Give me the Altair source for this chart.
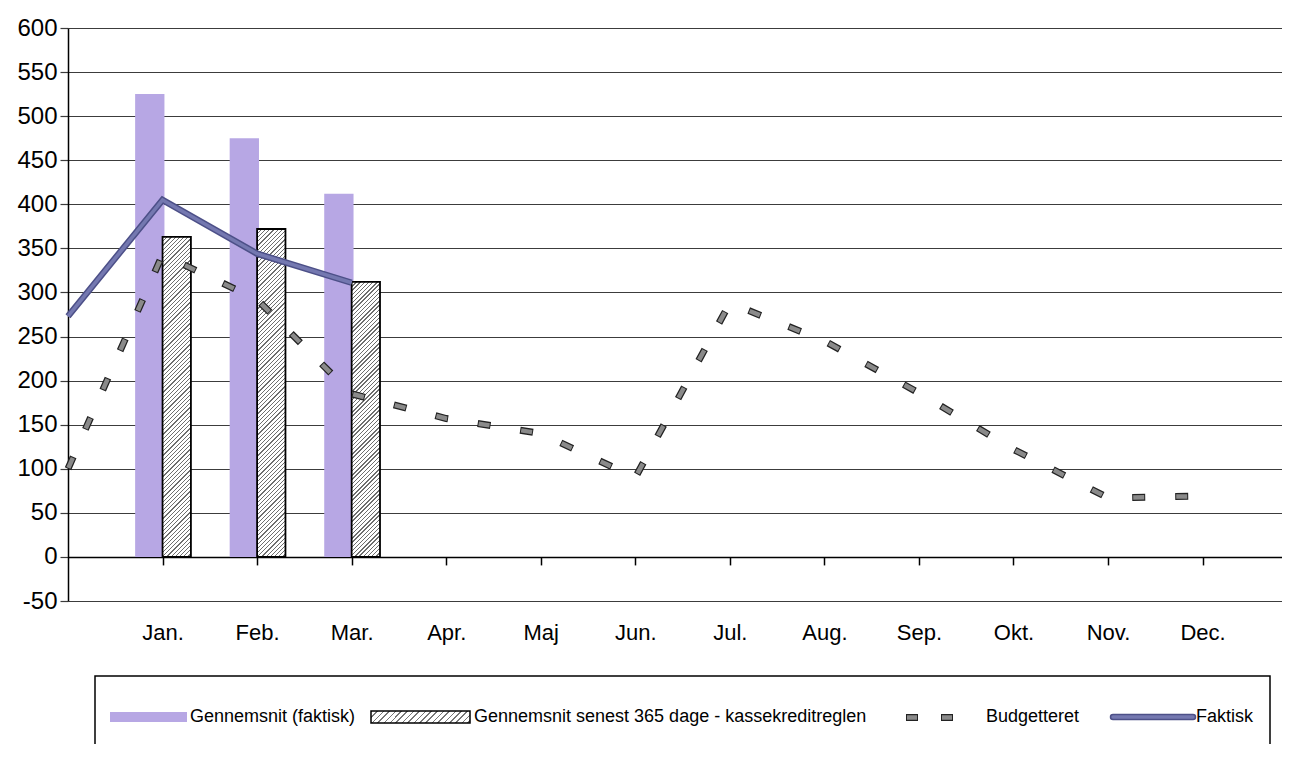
import json
import altair as alt
import pandas as pd

# ---------------- data ----------------
months = ["Jan.", "Feb.", "Mar.", "Apr.", "Maj", "Jun.", "Jul.", "Aug.", "Sep.", "Okt.", "Nov.", "Dec."]
bar_months = [1, 2, 3]
gennemsnit_faktisk = [525, 475, 412]
gennemsnit_365 = [363, 372, 312]
budget_pos = list(range(13))
budgetteret = [100, 343, 292, 185, 157, 140, 90, 288, 245, 186, 122, 67, 69]
faktisk_pos = [0, 1, 2, 3]
faktisk = [273, 405, 344, 311]
series_names = [
    "Gennemsnit (faktisk)",
    "Gennemsnit senest 365 dage - kassekreditreglen",
    "Budgetteret",
    "Faktisk",
]

# ---------------- layout / style ----------------
W, H = 1214, 573
XMAX = 12.84
YMIN, YMAX = -50, 600
PX_X = W / XMAX
PX_Y = H / (YMAX - YMIN)

FONT = "Liberation Sans"
PURPLE = "#b7a7e4"
SLATE_DARK = "#4d5088"
SLATE = "#7478b0"
GRID = "#3c3c3c"
DASH_GRAY = "#8a8a8a"


def hatch(w, h, period=4.2, dark=1.3, c_dark="#6e6e6e", c_light="#ffffff"):
    """Diagonal '/' hatch as a hard-stop linear gradient in bounding-box units."""
    S = w + h
    k = S / (w * w + h * h)
    stops = []
    s = 0.0
    while s < S:
        a = round(s / S, 5)
        b = round(min((s + dark) / S, 1.0), 5)
        c = round(min((s + period) / S, 1.0), 5)
        stops += [
            {"offset": a, "color": c_dark},
            {"offset": b, "color": c_dark},
            {"offset": b, "color": c_light},
            {"offset": c, "color": c_light},
        ]
        s += period
    return {"gradient": "linear", "x1": 0, "y1": 0, "x2": w * k, "y2": h * k, "stops": stops}


xs = alt.Scale(domain=[0, XMAX], nice=False, zero=False)
ys = alt.Scale(domain=[YMIN, YMAX], nice=False, zero=False)

xaxis = alt.Axis(
    values=list(range(1, 13)),
    labelExpr="%s[datum.value - 1]" % json.dumps(months),
    offset=-(0 - YMIN) * PX_Y,
    tickSize=8, tickWidth=1.5, tickColor="black",
    domainColor="black", domainWidth=1.5,
    labelFont=FONT, labelFontSize=22, labelColor="black",
    labelPadding=58, labelFlush=False, labelOverlap=False,
    grid=False, title=None,
)
yaxis = alt.Axis(
    values=list(range(YMIN, YMAX + 1, 50)),
    labelExpr="datum.value < 0 ? '-' + abs(datum.value) : '' + datum.value",
    grid=True, gridColor=GRID, gridWidth=1.2,
    tickSize=8, tickColor=GRID, tickWidth=1.2,
    domainColor="black", domainWidth=1.5,
    labelFont=FONT, labelFontSize=24, labelColor="black", labelPadding=3,
    title=None,
)


def X(field):
    return alt.X(field, type="quantitative", scale=xs, axis=xaxis)


def Y(field):
    return alt.Y(field, type="quantitative", scale=ys, axis=yaxis)


bars_df = pd.DataFrame({"m": bar_months, "faktisk": gennemsnit_faktisk, "senest": gennemsnit_365})
budget_df = pd.DataFrame({"pos": budget_pos, "v": budgetteret})
faktisk_df = pd.DataFrame({"pos": faktisk_pos, "v": faktisk})

BAR_W = 0.30

layers = []

# purple bars
layers.append(
    alt.Chart(bars_df)
    .transform_calculate(x0="datum.m - 0.29", x1="datum.m + 0.02")
    .mark_bar(fill=PURPLE)
    .encode(x=X("x0"), x2="x1:Q", y=Y("faktisk"), y2=alt.datum(0))
)

# hatched bars (one layer per bar so the hatch angle is right)
for m, v in zip(bar_months, gennemsnit_365):
    layers.append(
        alt.Chart(bars_df)
        .transform_filter(f"datum.m == {m}")
        .transform_calculate(x0="datum.m", x1=f"datum.m + {BAR_W}")
        .mark_bar(fill=hatch(BAR_W * PX_X, v * PX_Y), stroke="black", strokeWidth=1.8)
        .encode(x=X("x0"), x2="x1:Q", y=Y("senest"), y2=alt.datum(0))
    )

# budget dashed line (dark outline + gray core)
layers.append(
    alt.Chart(budget_df)
    .mark_line(color="#222222", strokeWidth=7, strokeDash=[13, 30], strokeCap="butt")
    .encode(x=X("pos"), y=Y("v"))
)
layers.append(
    alt.Chart(budget_df)
    .mark_line(color=DASH_GRAY, strokeWidth=4.5, strokeDash=[11, 32], strokeDashOffset=-1, strokeCap="butt")
    .encode(x=X("pos"), y=Y("v"))
)

# faktisk line
layers.append(
    alt.Chart(faktisk_df)
    .mark_line(color=SLATE_DARK, strokeWidth=6.5)
    .encode(x=X("pos"), y=Y("v"))
)
layers.append(
    alt.Chart(faktisk_df)
    .mark_line(color=SLATE, strokeWidth=3.5)
    .encode(x=X("pos"), y=Y("v"))
)

# ---------------- custom legend ----------------
one = pd.DataFrame({"k": [0]})
layers.append(
    alt.Chart(one).mark_rect(fill="transparent", stroke="black", strokeWidth=1.5)
    .encode(x=alt.value(27), x2=alt.value(1202), y=alt.value(648), y2=alt.value(800))
)
layers.append(
    alt.Chart(one).mark_rect(fill=PURPLE)
    .encode(x=alt.value(42), x2=alt.value(119), y=alt.value(684), y2=alt.value(694))
)
layers.append(
    alt.Chart(one).mark_rect(fill=hatch(99, 12, period=6.0, dark=1.6, c_dark="#777777"), stroke="black", strokeWidth=1.5)
    .encode(x=alt.value(303), x2=alt.value(402), y=alt.value(683), y2=alt.value(695))
)
layers.append(
    alt.Chart(one).mark_rule(color="#222222", strokeWidth=7, strokeDash=[12, 23], strokeCap="butt")
    .encode(x=alt.value(838), x2=alt.value(885), y=alt.value(689.5))
)
layers.append(
    alt.Chart(one).mark_rule(color=DASH_GRAY, strokeWidth=4.5, strokeDash=[10, 25], strokeDashOffset=-1, strokeCap="butt")
    .encode(x=alt.value(838), x2=alt.value(885), y=alt.value(689.5))
)
layers.append(
    alt.Chart(one).mark_rule(color=SLATE_DARK, strokeWidth=6.5, strokeCap="round")
    .encode(x=alt.value(1045), x2=alt.value(1125), y=alt.value(689))
)
layers.append(
    alt.Chart(one).mark_rule(color=SLATE, strokeWidth=3.5, strokeCap="round")
    .encode(x=alt.value(1045), x2=alt.value(1125), y=alt.value(689))
)
for name, lx in zip(series_names, [122, 406, 918, 1128]):
    layers.append(
        alt.Chart(pd.DataFrame({"label": [name]}))
        .mark_text(align="left", baseline="middle", font=FONT, fontSize=18, color="black")
        .encode(x=alt.value(lx), y=alt.value(689), text="label:N")
    )

chart = (
    alt.layer(*layers)
    .properties(
        width=W,
        height=H,
        autosize=alt.AutoSizeParams(type="none"),
        padding={"left": 60, "top": 20, "right": 0, "bottom": 143},
        background="white",
    )
    .configure_view(stroke=None)
)

chart.save("out.html", embed_options={"renderer": "svg", "actions": False})
